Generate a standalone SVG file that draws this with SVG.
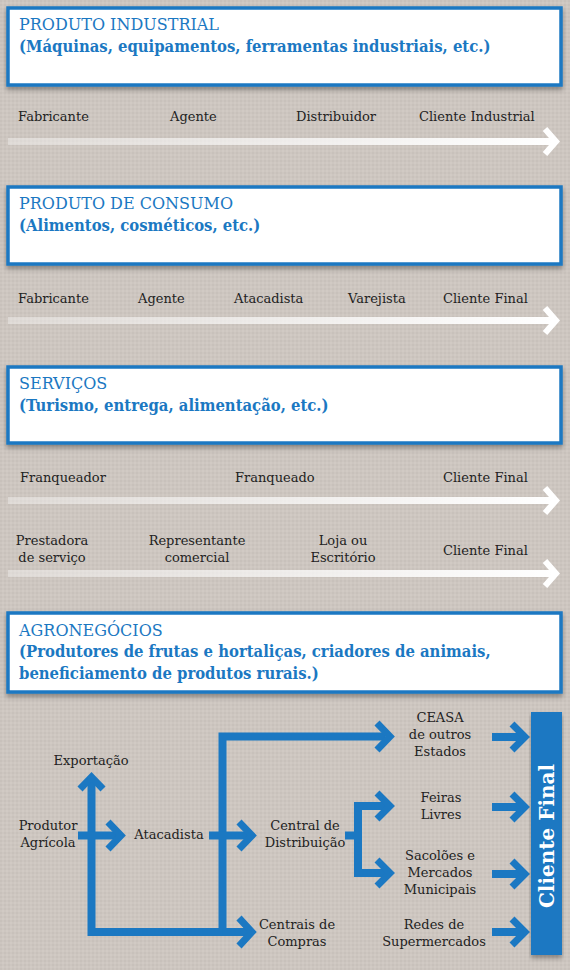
<svg xmlns="http://www.w3.org/2000/svg" width="570" height="970" viewBox="0 0 570 970">
<defs>
<linearGradient id="wg" x1="0" y1="0" x2="1" y2="0">
<stop offset="0" stop-color="#ffffff" stop-opacity="0.35"/>
<stop offset="1" stop-color="#ffffff" stop-opacity="1"/>
</linearGradient>
<pattern id="tex" width="4" height="4" patternUnits="userSpaceOnUse">
<rect width="4" height="4" fill="#cdc6c0"/>
<rect width="2" height="2" fill="#c8c1bb"/>
<rect x="2" y="2" width="2" height="2" fill="#d1cac4"/>
</pattern>
<filter id="sh" x="-5%" y="-10%" width="110%" height="130%">
<feDropShadow dx="0" dy="3" stdDeviation="2.5" flood-color="#000" flood-opacity="0.35"/>
</filter>
</defs>
<style>
.box{fill:#fff;stroke:#1b78c2;stroke-width:3.5;filter:url(#sh)}
.t1{font-family:"DejaVu Serif","Liberation Serif",serif;font-size:16px;fill:#1b78c2}
.t2{font-family:"DejaVu Serif Condensed","DejaVu Serif",serif;font-stretch:condensed;font-size:16.5px;font-weight:bold;fill:#1b78c2}
.lb{font-family:"DejaVu Serif","Liberation Serif",serif;font-size:13px;fill:#222;font-weight:300}
.c{text-anchor:middle}
.wl{fill:url(#wg)}
.wh{fill:none;stroke:#fff;stroke-width:6;stroke-linejoin:miter}
.bl{fill:none;stroke:#1b78c2;stroke-width:8;stroke-linejoin:miter}
.bh{fill:none;stroke:#1b78c2;stroke-width:7;stroke-linejoin:miter}
</style>
<rect width="570" height="970" fill="url(#tex)"/>

<g id="box-industrial">
<rect class="box" x="8" y="8" width="553" height="77"/>
<text class="t1" x="19" y="30">PRODUTO INDUSTRIAL</text>
<text class="t2" x="19" y="52">(Máquinas, equipamentos, ferramentas industriais, etc.)</text>
</g>
<g id="box-consumo">
<rect class="box" x="8" y="187" width="553" height="77"/>
<text class="t1" x="19" y="209">PRODUTO DE CONSUMO</text>
<text class="t2" x="19" y="231">(Alimentos, cosméticos, etc.)</text>
</g>
<g id="box-servicos">
<rect class="box" x="8" y="367" width="553" height="76"/>
<text class="t1" x="19" y="389">SERVIÇOS</text>
<text class="t2" x="19" y="411">(Turismo, entrega, alimentação, etc.)</text>
</g>
<g id="box-agro">
<rect class="box" x="8" y="613" width="553" height="79"/>
<text class="t1" x="19" y="636">AGRONEGÓCIOS</text>
<text class="t2" x="19" y="657">(Produtores de frutas e hortaliças, criadores de animais,</text>
<text class="t2" x="19" y="679">beneficiamento de produtos rurais.)</text>
</g>

<g id="white-arrows">
<rect class="wl" x="8" y="138" width="546" height="7"/>
<polyline class="wh" points="545,129 556,141.5 545,154"/>
<rect class="wl" x="8" y="317" width="546" height="7"/>
<polyline class="wh" points="545,308 556,320.5 545,333"/>
<rect class="wl" x="8" y="497" width="546" height="7"/>
<polyline class="wh" points="545,488 556,500.5 545,513"/>
<rect class="wl" x="8" y="570" width="546" height="7"/>
<polyline class="wh" points="545,561 556,573.5 545,586"/>
</g>

<g id="row1">
<text class="lb" x="18" y="121">Fabricante</text>
<text class="lb" x="170" y="121">Agente</text>
<text class="lb" x="296" y="121">Distribuidor</text>
<text class="lb" x="419" y="121">Cliente Industrial</text>
</g>
<g id="row2">
<text class="lb" x="18" y="303">Fabricante</text>
<text class="lb" x="138" y="303">Agente</text>
<text class="lb" x="234" y="303">Atacadista</text>
<text class="lb" x="348" y="303">Varejista</text>
<text class="lb" x="443" y="303">Cliente Final</text>
</g>
<g id="row3">
<text class="lb" x="20" y="482">Franqueador</text>
<text class="lb" x="235" y="482">Franqueado</text>
<text class="lb" x="443" y="482">Cliente Final</text>
</g>
<g id="row4">
<text class="lb c" x="52" y="545">Prestadora</text>
<text class="lb c" x="52" y="562">de serviço</text>
<text class="lb c" x="197" y="545">Representante</text>
<text class="lb c" x="197" y="562">comercial</text>
<text class="lb c" x="343" y="545">Loja ou</text>
<text class="lb c" x="343" y="562">Escritório</text>
<text class="lb" x="443" y="555">Cliente Final</text>
</g>

<g id="connectors">
<polyline class="bl" points="91.5,780 91.5,932 222.5,932 222.5,736.5 385,736.5"/>
<polyline class="bl" points="222.5,932 250,932"/>
<polyline class="bh" points="80,789 91.5,777 103,789"/>
<polyline class="bl" points="78,835.5 120,835.5"/>
<polyline class="bh" points="108,822 121,835.5 108,849"/>
<polyline class="bl" points="209,835.5 250,835.5"/>
<polyline class="bh" points="239,822 252,835.5 239,849"/>
<polyline class="bh" points="239,918 252,932 239,946"/>
<polyline class="bh" points="377,723 390,736.5 377,750"/>
<polyline class="bl" points="345,835.5 358,835.5"/>
<polyline class="bl" points="387,806 358,806 358,873 387,873"/>
<polyline class="bh" points="377,793 390,806 377,819"/>
<polyline class="bh" points="377,860 390,873 377,886"/>
<polyline class="bl" points="492,737 522,737"/>
<polyline class="bh" points="512,724 525,737 512,750"/>
<polyline class="bl" points="492,807 522,807"/>
<polyline class="bh" points="512,794 525,807 512,820"/>
<polyline class="bl" points="492,874 522,874"/>
<polyline class="bh" points="512,861 525,874 512,887"/>
<polyline class="bl" points="492,932 522,932"/>
<polyline class="bh" points="512,919 525,932 512,945"/>
</g>

<g id="agro-labels">
<text class="lb c" x="91" y="765">Exportação</text>
<text class="lb c" x="48" y="830">Produtor</text>
<text class="lb c" x="48" y="847">Agrícola</text>
<text class="lb c" x="169" y="839">Atacadista</text>
<text class="lb c" x="305" y="830">Central de</text>
<text class="lb c" x="305" y="847">Distribuição</text>
<text class="lb c" x="297" y="929">Centrais de</text>
<text class="lb c" x="297" y="946">Compras</text>
<text class="lb c" x="440" y="722">CEASA</text>
<text class="lb c" x="440" y="739">de outros</text>
<text class="lb c" x="440" y="756">Estados</text>
<text class="lb c" x="441" y="802">Feiras</text>
<text class="lb c" x="441" y="819">Livres</text>
<text class="lb c" x="440" y="860">Sacolões e</text>
<text class="lb c" x="440" y="877">Mercados</text>
<text class="lb c" x="440" y="894">Municipais</text>
<text class="lb c" x="434" y="929">Redes de</text>
<text class="lb c" x="434" y="946">Supermercados</text>
</g>

<g id="cliente-final">
<rect x="531" y="712" width="31" height="243" fill="#1b78c2" filter="url(#sh)"/>
<text x="0" y="0" transform="translate(554,836) rotate(-90)" text-anchor="middle" font-family="'DejaVu Serif','Liberation Serif',serif" font-size="20" font-weight="bold" fill="#fff">Cliente Final</text>
</g>
</svg>
